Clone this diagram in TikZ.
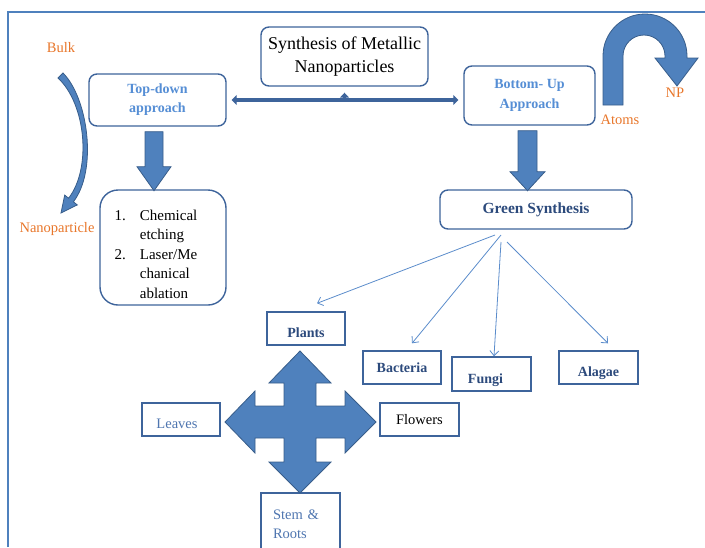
\documentclass[tikz,border=0pt]{standalone}
\usepackage{fontspec}
\setmainfont{Liberation Serif}
\usetikzlibrary{calc,arrows.meta,positioning}
\definecolor{boxline}{HTML}{3E649B}
\definecolor{arrowfill}{HTML}{4F81BD}
\definecolor{arrowline}{HTML}{385D8A}
\definecolor{thinblue}{HTML}{5B8CCB}
\definecolor{tdblue}{HTML}{558ED5}
\definecolor{navy}{HTML}{2C4A7C}
\definecolor{midblue}{HTML}{4F76B0}
\definecolor{orng}{HTML}{E8762A}
\definecolor{frameblue}{HTML}{4F81BD}

\begin{document}
\begin{tikzpicture}[x=1pt,y=-1pt,
  box/.style={draw=boxline,line width=1.4pt,fill=white,align=center,inner sep=2pt},
  rbox/.style={box,rounded corners=8pt},
  low/.style={text height=21pt,text depth=3pt},
  hd/.style={font=\fontsize{14}{19}\selectfont\bfseries,text=tdblue},
  nv/.style={font=\fontsize{14}{17}\selectfont\bfseries,text=navy},
  pl/.style={font=\fontsize{14.5}{19}\selectfont,text=midblue},
  lbl/.style={font=\fontsize{14.5}{17}\selectfont,text=orng,inner sep=0pt},
  blockarrow/.style={fill=arrowfill,draw=arrowline,line width=0.8pt},
  thinarrow/.style={draw=thinblue,line width=0.8pt,-{Straight Barb[length=5pt,width=9pt]}},
  dbl/.style={draw=boxline,line width=3.5pt,{Triangle[length=5pt,width=10pt]}-{Triangle[length=5pt,width=10pt]}}]

  \useasboundingbox (0,0) rectangle (705,547);
  \draw[frameblue,line width=2pt] (8,547) -- (8,12) -- (706,12);

  % boxes
  \node[rbox,minimum width=167pt,minimum height=59pt,font=\fontsize{18}{23}\selectfont] (synth) at (344.5,56.5) {Synthesis of Metallic\\Nanoparticles};
  \node[rbox,hd,minimum width=137pt,minimum height=52pt] (topdown) at (157.5,100) {Top-down\\approach};
  \node[rbox,hd,minimum width=131pt,minimum height=59pt,font=\fontsize{14}{20}\selectfont\bfseries] (bottomup) at (529.5,95.5) {Bottom- Up\\Approach};
  \node[rbox,rounded corners=18pt,minimum width=126pt,minimum height=115pt] (chem) at (163,247.5) {};
  \node[font=\fontsize{15}{19.5}\selectfont,inner sep=0pt] (chemlist) at ([xshift=-7pt,yshift=-8pt]chem.center)
    {\begin{tabular}{@{}l@{\hspace{14pt}}l@{}}1. & Chemical\\ & etching\\2. & Laser/Me\\ & chanical\\ & ablation\end{tabular}};
  \node[rbox,nv,font=\fontsize{15.5}{18}\selectfont\bfseries,minimum width=192pt,minimum height=39pt] (green) at (536,209.5) {Green Synthesis};

  \node[box,nv,low,minimum width=78pt,minimum height=33pt] (plants) at (306,328.5) {Plants};
  \node[box,nv,minimum width=78pt,minimum height=33pt] (bacteria) at (402,367.5) {Bacteria};
  \node[box,nv,low,minimum width=79pt,minimum height=34pt] (fungi) at (491.5,374) {\hspace*{-12pt}Fungi};
  \node[box,nv,low,minimum width=79pt,minimum height=33pt] (alagae) at (598.5,367.5) {Alagae};
  \node[box,pl,low,minimum width=78pt,minimum height=33pt] (leaves) at (181,419.5) {\hspace*{-8pt}Leaves};
  \node[box,pl,text=black,minimum width=79pt,minimum height=33pt] (flowers) at (419.5,419.5) {Flowers};
  \node[box,pl,align=left,text width=55pt,minimum width=79pt,minimum height=62pt] (stem) at (300.5,524) {Stem \&\\Roots};

  % orange labels
  \node[lbl] (bulk) at (61,48) {Bulk};
  \node[lbl] (nano) at (57,229) {Nanoparticle};
  \node[lbl] (atoms) at (620,120) {Atoms};
  \node[lbl] (np) at (675,93) {NP};

  % top arrows
  \draw[dbl,shorten <=5pt,shorten >=5pt] (topdown.east) -- (topdown.east -| bottomup.west);
  \draw[draw=boxline,line width=2.5pt,-{Triangle[length=5pt,width=9pt]},shorten >=6pt] (synth.south |- topdown.east) -- (synth.south);

  \path[blockarrow] ([xshift=-3.5pt,yshift=-5pt]topdown.south) ++(-9,0) -- ++(18,0) -- ++(0,35) -- ++(8,0) -- ++(-17,24) -- ++(-17,-24) -- ++(8,0) -- cycle;
  \path[blockarrow] ([xshift=-2pt,yshift=-5pt]bottomup.south) ++(-9.5,0) -- ++(19,0) -- ++(0,41) -- ++(8,0) -- ++(-17.5,19) -- ++(-17.5,-19) -- ++(8,0) -- cycle;

  % bulk -> nanoparticle
  \path[blockarrow] (63,73) .. controls (88,98) and (97.8,170) .. (73.4,201.8) -- (77.3,204.9) -- (61,213)
    -- (64.7,195.1) -- (68.6,198.2) .. controls (91.8,168.2) and (86,104) .. (58,78) -- cycle;

  % atoms -> NP
  \path[blockarrow] (603,105) -- (603,56) arc[start angle=180,end angle=0,radius=42pt] -- (687,58) -- (698,58) -- (677,86)
    -- (655,58) -- (665,58) -- (665,56) arc[start angle=0,end angle=180,radius=21pt] -- (623,105) -- cycle;

  % green synthesis fan
  \coordinate (fan1) at (495,235);
  \coordinate (fan2) at (501,235);
  \coordinate (fan3) at (501,242);
  \coordinate (fan4) at (507,242);
  \draw[thinarrow] (fan1) -- ([xshift=11pt,yshift=8pt]plants.north);
  \draw[thinarrow] (fan2) -- ([xshift=10pt,yshift=7pt]bacteria.north);
  \draw[thinarrow] (fan3) -- ([xshift=2.5pt]fungi.north);
  \draw[thinarrow] (fan4) -- ([xshift=9.5pt,yshift=7pt]alagae.north);

  % plants cross
  \path[blockarrow,shift={(300,422)}] (0,-71) -- (31,-39) -- (16,-39) -- (16,-16) -- (45,-16) -- (45,-31) -- (76,0)
    -- (45,31) -- (45,16) -- (16,16) -- (16,40) -- (31,40) -- (0,71) -- (-31,40) -- (-16,40) -- (-16,16)
    -- (-45,16) -- (-45,31) -- (-75,0) -- (-45,-31) -- (-45,-16) -- (-16,-16) -- (-16,-39) -- (-31,-39) -- cycle;

\end{tikzpicture}
\end{document}
